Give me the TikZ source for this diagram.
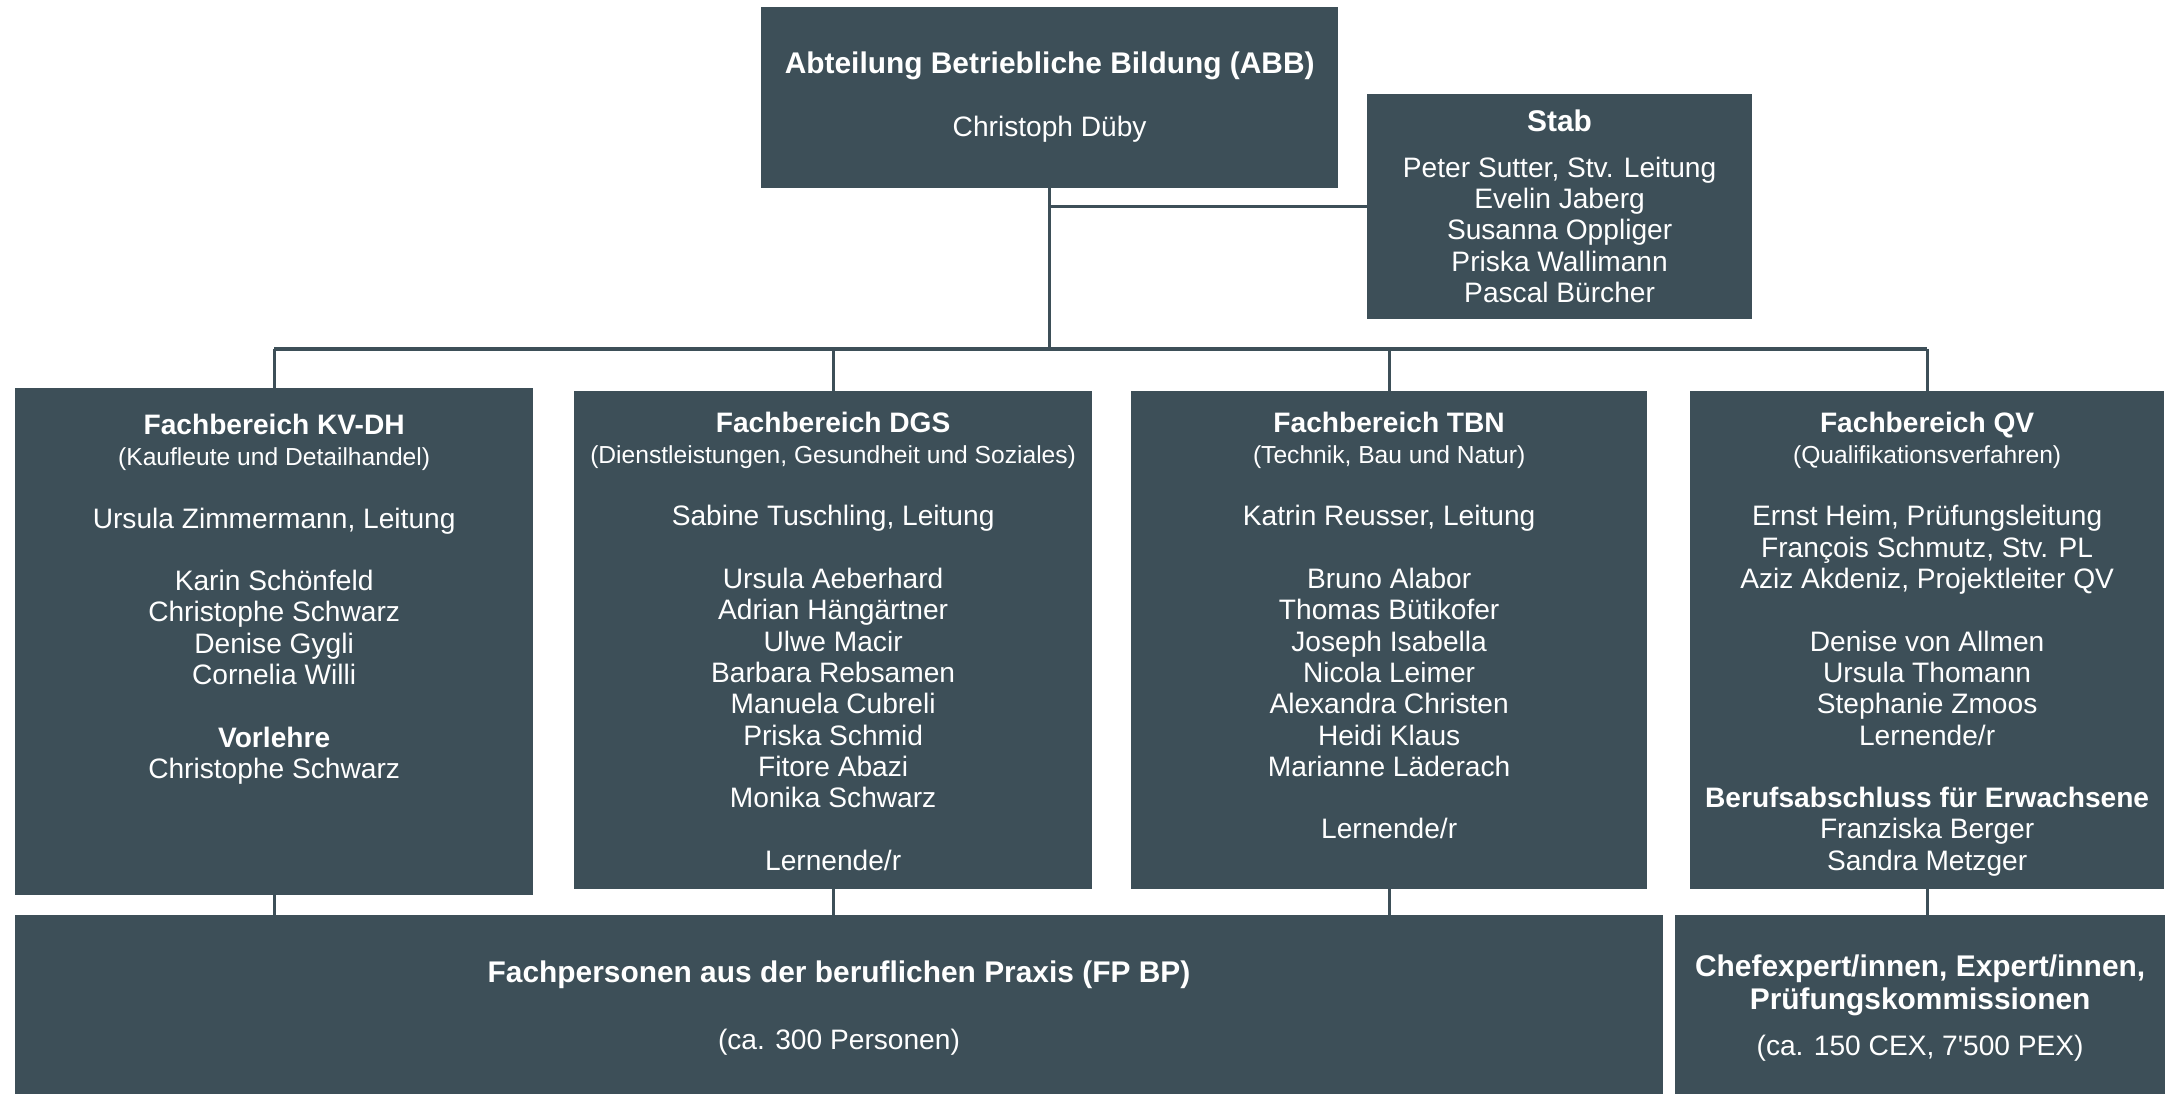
\documentclass[tikz,border=0pt]{standalone}
\usepackage{fontspec}
\setmainfont{Liberation Sans}
\usetikzlibrary{positioning}

\definecolor{slate}{RGB}{61,79,88}

\begin{document}
\begin{tikzpicture}[x=0.01cm, y=-0.01cm]

    % Define styles
    \tikzset{
        unit box/.style={fill=slate, draw=none, inner sep=0pt, outer sep=0pt, anchor=north west,
            text=white, align=center, font=\fontsize{8}{8.9}\selectfont},
        unit text/.style={inner sep=0pt, text=white, align=center, font=\fontsize{8}{8.9}\selectfont},
        link/.style={draw=slate, line width=0.9pt}
    }

    % Fix the canvas (reference is cut at the right and bottom)
    \useasboundingbox (0,0) rectangle (2165,1094);

    % Head of the department
    \node[unit box, minimum width=5.77cm, minimum height=1.81cm] (abb) at (761,7)
        {{\fontsize{8.5}{8.9}\selectfont\bfseries Abteilung Betriebliche Bildung (ABB)}\\[9pt]
         Christoph Düby};

    % Staff unit
    \node[unit box, minimum width=3.85cm, minimum height=2.25cm] (stab) at (1367,94)
        {{\fontsize{8.5}{8.9}\selectfont\bfseries Stab}\\[4pt]
         Peter Sutter, Stv. Leitung\\ Evelin Jaberg\\ Susanna Oppliger\\
         Priska Wallimann\\ Pascal Bürcher};

    % Fachbereiche (boxes)
    \node[unit box, minimum width=5.18cm, minimum height=5.07cm] (kvdh) at (15,388) {};
    \node[unit box, minimum width=5.18cm, minimum height=4.98cm] (dgs) at (574,391) {};
    \node[unit box, minimum width=5.16cm, minimum height=4.98cm] (tbn) at (1131,391) {};
    \node[unit box, minimum width=4.74cm, minimum height=4.98cm] (qv) at (1690,391) {};

    % Fachbereiche (texts)
    \node[unit text, below=0.25cm of kvdh.north] (kvdh-text)
        {\textbf{Fachbereich KV-DH}\\
         {\fontsize{7}{8.9}\selectfont (Kaufleute und Detailhandel)}\\[8.9pt]
         Ursula Zimmermann, Leitung\\[8.9pt]
         Karin Schönfeld\\ Christophe Schwarz\\ Denise Gygli\\ Cornelia Willi\\[8.9pt]
         \textbf{Vorlehre}\\ Christophe Schwarz};
    \node[unit text, below=0.2cm of dgs.north] (dgs-text)
        {\textbf{Fachbereich DGS}\\
         {\fontsize{7}{8.9}\selectfont (Dienstleistungen, Gesundheit und Soziales)}\\[8.9pt]
         Sabine Tuschling, Leitung\\[8.9pt]
         Ursula Aeberhard\\ Adrian Hängärtner\\ Ulwe Macir\\ Barbara Rebsamen\\
         Manuela Cubreli\\ Priska Schmid\\ Fitore Abazi\\ Monika Schwarz\\[8.9pt]
         Lernende/r};
    \node[unit text, below=0.2cm of tbn.north] (tbn-text)
        {\textbf{Fachbereich TBN}\\
         {\fontsize{7}{8.9}\selectfont (Technik, Bau und Natur)}\\[8.9pt]
         Katrin Reusser, Leitung\\[8.9pt]
         Bruno Alabor\\ Thomas Bütikofer\\ Joseph Isabella\\ Nicola Leimer\\
         Alexandra Christen\\ Heidi Klaus\\ Marianne Läderach\\[8.9pt]
         Lernende/r};
    \node[unit text, below=0.2cm of qv.north] (qv-text)
        {\textbf{Fachbereich QV}\\
         {\fontsize{7}{8.9}\selectfont (Qualifikationsverfahren)}\\[8.9pt]
         Ernst Heim, Prüfungsleitung\\ François Schmutz, Stv. PL\\
         Aziz Akdeniz, Projektleiter QV\\[8.9pt]
         Denise von Allmen\\ Ursula Thomann\\ Stephanie Zmoos\\ Lernende/r\\[8.9pt]
         \textbf{Berufsabschluss für Erwachsene}\\ Franziska Berger\\ Sandra Metzger};

    % Pools of outside people
    \node[unit box, minimum width=16.47cm, minimum height=1.86cm] (fpbp) at (15,915)
        {{\fontsize{8.5}{8.9}\selectfont\bfseries Fachpersonen aus der beruflichen Praxis (FP BP)}\\[10pt]
         (ca. 300 Personen)};
    \node[unit box, minimum width=4.9cm, minimum height=1.86cm] (chef) at (1675,915)
        {{\fontsize{8.5}{8.9}\selectfont\bfseries Chefexpert/innen, Expert/innen,}\\[0.6pt]
         {\fontsize{8.5}{8.9}\selectfont\bfseries Prüfungskommissionen}\\[4.2pt]
         (ca. 150 CEX, 7\textquotesingle 500 PEX)};

    % Connectors
    \coordinate (bus) at (1049,349);
    \draw[link] (abb.south) -- (abb.south |- bus);
    \draw[link] (stab.west) -- (stab.west -| abb.south);
    \draw[link] (kvdh.north |- bus) -- (qv.north |- bus);
    \foreach \fb in {kvdh,dgs,tbn,qv}
        \draw[link] (\fb.north |- bus) -- (\fb.north);
    \foreach \fb in {kvdh,dgs,tbn}
        \draw[link] (\fb.south) -- (\fb.south |- fpbp.north);
    \draw[link] (qv.south) -- (qv.south |- chef.north);

\end{tikzpicture}
\end{document}
